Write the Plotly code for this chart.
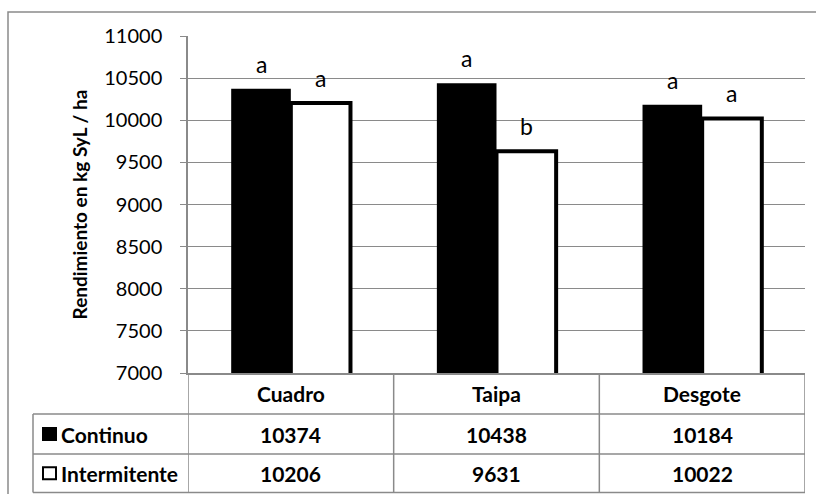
import plotly.graph_objects as go

# ---- data ----
categories = ["Cuadro", "Taipa", "Desgote"]
series_names = ["Continuo", "Intermitente"]
continuo = [10374, 10438, 10184]
intermitente = [10206, 9631, 10022]
letters_continuo = ["a", "a", "a"]
letters_intermitente = ["a", "b", "a"]
y_ticks = [7000, 7500, 8000, 8500, 9000, 9500, 10000, 10500, 11000]
y_title = "Rendimiento en kg SyL / ha"

# ---- layout geometry (pixels) ----
W, H = 816, 494
ML, MR, MT, MB = 188, 11, 36, 121
PW, PH = W - ML - MR, H - MT - MB
BARGAP = 0.42
FONT = "Lato"
GRID = "#8a8a8a"


def fx(px):
    return (px - ML) / PW


def fy(py):
    return (H - MB - py) / PH


fig = go.Figure()
fig.add_trace(go.Bar(
    x=categories, y=continuo, name=series_names[0],
    marker=dict(color="black", line=dict(color="black", width=0)),
))
fig.add_trace(go.Bar(
    x=categories, y=intermitente, name=series_names[1],
    marker=dict(color="white", line=dict(color="black", width=4)),
))

shapes = []
annotations = []

# significance letters above each bar
bar_px = PW / len(categories) * (1 - BARGAP) / 2
for i, cat in enumerate(categories):
    for vals, letters, sh in ((continuo, letters_continuo, -bar_px / 2),
                              (intermitente, letters_intermitente, bar_px / 2)):
        annotations.append(dict(
            x=cat, y=vals[i], xref="x", yref="y", text=letters[i],
            showarrow=False, xshift=sh, yshift=25, yanchor="middle",
            font=dict(family=FONT, size=23, color="black"),
        ))

# data table below the plot
line = dict(color=GRID, width=1.5)
y_head_bot, y_r1_bot, y_r2_bot = 414, 454, 492.5
y_axis_px = H - MB
for py in (y_head_bot, y_r1_bot, y_r2_bot):
    shapes.append(dict(type="line", xref="paper", yref="paper",
                       x0=fx(33), x1=1, y0=fy(py), y1=fy(py), line=line))
for k in range(len(categories) + 1):
    shapes.append(dict(type="line", xref="x", yref="paper",
                       x0=k - 0.5, x1=k - 0.5, y0=fy(y_axis_px), y1=fy(y_r2_bot),
                       line=line))
shapes.append(dict(type="line", xref="paper", yref="paper",
                   x0=fx(33), x1=fx(33), y0=fy(y_head_bot), y1=fy(y_r2_bot), line=line))

cell_font = dict(family=FONT, size=21, color="black")
for i, cat in enumerate(categories):
    annotations.append(dict(x=cat, xref="x", yref="paper",
                            y=fy((y_axis_px + y_head_bot) / 2), text="<b>%s</b>" % cat,
                            showarrow=False, yanchor="middle", font=cell_font))
    for vals, top, bot in ((continuo, y_head_bot, y_r1_bot),
                           (intermitente, y_r1_bot, y_r2_bot)):
        annotations.append(dict(x=cat, xref="x", yref="paper",
                                y=fy((top + bot) / 2), text="<b>%d</b>" % vals[i],
                                showarrow=False, yanchor="middle", font=cell_font))

# legend keys and series names in the table's first column
for name, fill, top, bot in ((series_names[0], "black", y_head_bot, y_r1_bot),
                             (series_names[1], "white", y_r1_bot, y_r2_bot)):
    cy = (top + bot) / 2
    shapes.append(dict(type="rect", xref="paper", yref="paper",
                       x0=fx(43), x1=fx(56), y0=fy(cy - 6), y1=fy(cy + 6),
                       fillcolor=fill, line=dict(color="black", width=2)))
    annotations.append(dict(x=fx(59), y=fy(cy), xref="paper", yref="paper",
                            text="<b>%s</b>" % name, showarrow=False,
                            xanchor="left", yanchor="middle", font=cell_font))

# outer chart border
shapes.append(dict(type="rect", xref="paper", yref="paper", layer="below",
                   x0=fx(8), x1=fx(830), y0=fy(510), y1=fy(12),
                   line=dict(color=GRID, width=1.5), fillcolor="rgba(0,0,0,0)"))

fig.update_layout(
    width=W, height=H,
    margin=dict(l=ML, r=MR, t=MT, b=MB, pad=0),
    paper_bgcolor="white", plot_bgcolor="white",
    barmode="group", bargap=BARGAP, bargroupgap=0,
    showlegend=False,
    shapes=shapes, annotations=annotations,
    font=dict(family=FONT, color="black"),
)
fig.update_xaxes(showticklabels=False, ticks="", showgrid=False,
                 showline=True, linecolor=GRID, linewidth=1.5,
                 range=[-0.5, len(categories) - 0.5])
fig.update_yaxes(range=[7000, 11000], tickvals=y_ticks, tickformat="d",
                 showgrid=True, gridcolor=GRID, gridwidth=1,
                 showline=True, linecolor=GRID, linewidth=1.5,
                 ticks="outside", ticklen=6, tickcolor=GRID,
                 ticklabelstandoff=14,
                 tickfont=dict(family=FONT, size=20, color="black"),
                 title=dict(text="<b>%s</b>" % y_title, standoff=12,
                            font=dict(family=FONT, size=19, color="black")),
                 zeroline=False)

fig.write_html("out.html")
